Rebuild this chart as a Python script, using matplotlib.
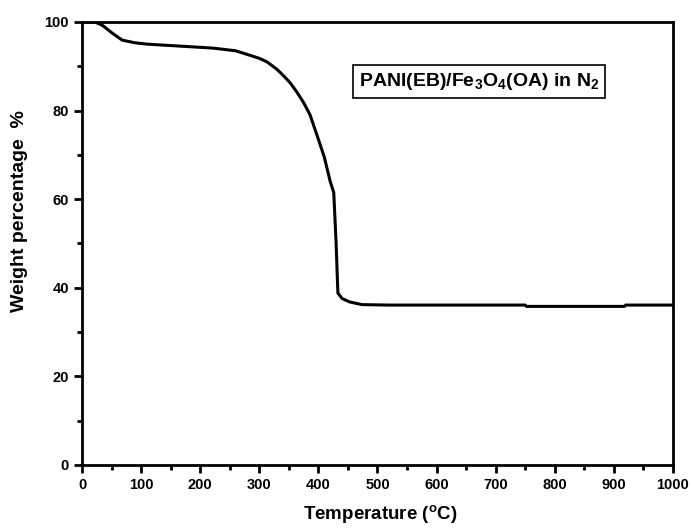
import numpy as np
import matplotlib.pyplot as plt

plt.rcParams['font.family'] = 'Liberation Sans'
plt.rcParams['font.weight'] = 'bold'
plt.rcParams['mathtext.fontset'] = 'custom'
plt.rcParams['mathtext.rm'] = 'Liberation Sans:bold'
plt.rcParams['mathtext.bf'] = 'Liberation Sans:bold'

# TGA curve
temperature = [0, 22, 35, 50, 68, 90, 110, 160, 222, 260, 279, 300, 313, 330, 340,
               352, 363, 375, 386, 400, 410, 420, 426, 430, 433, 440, 453, 474,
               520, 600, 700, 750, 752, 918, 920, 1000]
weight = [100, 100, 99.2, 97.6, 95.9, 95.3, 95.0, 94.6, 94.1, 93.5, 92.7, 91.8, 91.0,
          89.3, 88.0, 86.3, 84.3, 81.8, 79.0, 73.5, 69.5, 64.0, 61.5, 50.0, 38.8,
          37.6, 36.8, 36.2, 36.1, 36.1, 36.1, 36.1, 35.8, 35.8, 36.1, 36.1]

fig = plt.figure(figsize=(6.92, 5.31), dpi=100)
ax = fig.add_axes([0.1185, 0.1243, 0.854, 0.8343])
ax.plot(temperature, weight, color='black', lw=2.2)

ax.set_xlim(0, 1000)
ax.set_ylim(0, 100)
ax.set_xticks(np.arange(0, 1001, 100))
ax.set_xticks(np.arange(50, 1000, 100), minor=True)
ax.set_yticks(np.arange(0, 101, 20))
ax.set_yticks(np.arange(10, 100, 20), minor=True)
ax.tick_params(which='both', direction='out', width=2, labelsize=10.5)
ax.tick_params(which='major', length=6)
ax.tick_params(which='minor', length=3.5)
for s in ax.spines.values():
    s.set_linewidth(2)

ax.set_xlabel('Temperature ($^\\mathregular{o}$C)', fontsize=13.5, fontweight='bold', va='center')
ax.xaxis.set_label_coords(0.505, -0.113)
ax.set_ylabel('Weight percentage  %', fontsize=14, fontweight='bold', va='center')
ax.yaxis.set_label_coords(-0.105, 0.573)

ax.text(0.672, 0.865, 'PANI(EB)/Fe$_3$O$_4$(OA) in N$_2$', transform=ax.transAxes,
        ha='center', va='center', fontsize=14, fontweight='bold',
        bbox=dict(boxstyle='square,pad=0.3', fc='white', ec='black', lw=1.2))

fig.savefig('out.png')
